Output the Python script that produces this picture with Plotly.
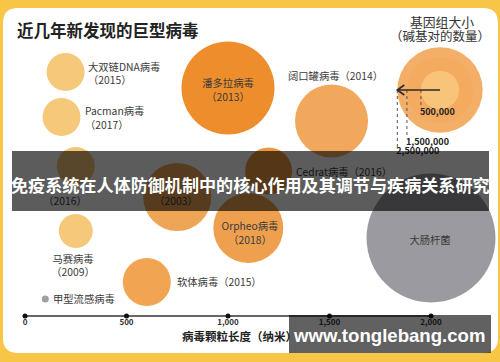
import math
import plotly.graph_objects as go

# ---------------- data ----------------
virus_names = ["大双链DNA病毒", "Pacman病毒", "", "潘多拉病毒", "阔口罐病毒", "Cedrat病毒",
               "", "Orpheo病毒", "马赛病毒", "软体病毒", "甲型流感病毒", "大肠杆菌"]
discovery_years = ["2015", "2017", "2016", "2013", "2014", "2016",
                   "2003", "2018", "2009", "2015", "", ""]
particle_length_nm = [200, 180, 250, 1000, 1510, 1200, 750, 1100, 250, 600, 100, 2000]
genome_bp = [495000, 495000, 495000, 2970000, 1830000, 757000,
             1590000, 1680000, 396000, 790000, 16800, 5700000]
row_position = [72, 117, 166, 88, 121, 171, 197, 228, 231, 282, 299, 238]

legend_genome_bp = [2500000, 1500000, 500000]
legend_text = ["2,500,000", "1,500,000", "500,000"]

tick_vals = [0, 500, 1000, 1500, 2000]
tick_text = ["0", "500", "1,000", "1,500", "2,000"]

# ---------------- styles / layout ----------------
W, H = 500, 362
PX0, PXS = 25.0, 0.203          # pixel of 0 nm, pixels per nm
SIZEREF = 686.0                 # area scaling of bubbles
FONT = "Noto Sans CJK SC, Noto Sans, sans-serif"
TXT = "#3a3a3a"
BG = "#f7c646"

bubble_colors = ["#f6c87a", "#f6c87a", "#f5c677", "#ee8d2c", "#f2a85c", "#eb9841",
                 "#eea556", "#efa04f", "#f6c87a", "#f1a553", "#a0a0a2", "#9b9aa0"]
legend_colors = ["#ee8b27", "#f3a95d", "#f8cf86"]


def nm(px):
    return (px - PX0) / PXS


def radius(g):
    return math.sqrt(g / 2.0 / SIZEREF)


fig = go.Figure()

# bubbles
fig.add_trace(go.Scatter(
    x=particle_length_nm, y=row_position, mode="markers",
    marker=dict(size=genome_bp, sizemode="area", sizeref=SIZEREF,
                color=bubble_colors, line=dict(width=0), opacity=1),
    cliponaxis=False, hoverinfo="skip", showlegend=False))

# genome-size legend circles
LEG_X, LEG_Y = 440, 90
fig.add_trace(go.Scatter(
    x=[nm(LEG_X)] * 3, y=[LEG_Y] * 3, mode="markers",
    marker=dict(size=legend_genome_bp, sizemode="area", sizeref=SIZEREF,
                color=legend_colors, line=dict(width=0)),
    cliponaxis=False, hoverinfo="skip", showlegend=False))

# dotted guide lines + value labels of legend
line_ends = [150, 138, 107]
label_y = [152, 142.5, 113]
for g, yend, ty, t in zip(legend_genome_bp, line_ends, label_y, legend_text):
    xe = LEG_X - radius(g)
    fig.add_trace(go.Scatter(
        x=[nm(xe), nm(xe)], y=[LEG_Y, yend], mode="lines",
        line=dict(color="#555555", width=1, dash="dot"),
        cliponaxis=False, hoverinfo="skip", showlegend=False))
    fig.add_trace(go.Scatter(
        x=[nm(xe - 1)], y=[ty], mode="text", text=["<b>" + t + "</b>"],
        textposition="middle right", textfont=dict(family=FONT, size=9, color="#222222"),
        cliponaxis=False, hoverinfo="skip", showlegend=False))

# arrow in legend
xo = LEG_X - radius(legend_genome_bp[0])
fig.add_trace(go.Scatter(
    x=[nm(LEG_X), nm(xo), None, nm(xo + 7), nm(xo), nm(xo + 7)],
    y=[LEG_Y, LEG_Y, None, LEG_Y - 5, LEG_Y, LEG_Y + 5],
    mode="lines", line=dict(color="#2a2a2a", width=1.6),
    cliponaxis=False, hoverinfo="skip", showlegend=False))

# bubble labels (px position, anchor)
label_layout = [
    (88, 75, "middle right", "br"),
    (85, 119.5, "middle right", "br"),
    (65, 202, "middle center", "year"),
    (228, 91.5, "middle center", "br"),
    (288, 77, "middle right", "inline"),
    (296, 173, "middle right", "inline"),
    (176, 202, "middle center", "year"),
    (250, 234.5, "middle center", "br"),
    (73, 267, "middle center", "br"),
    (177, 283, "middle right", "inline"),
    (53, 300, "middle right", "name"),
    (430, 241, "middle center", "name"),
]
for name, yr, (lx, ly, pos, kind) in zip(virus_names, discovery_years, label_layout):
    if kind == "br":
        t = f"{name}<br>（{yr}）"
    elif kind == "inline":
        t = f"{name}（{yr}）"
    elif kind == "year":
        t = f"（{yr}）"
    else:
        t = name
    fig.add_trace(go.Scatter(
        x=[nm(lx)], y=[ly], mode="text", text=[t], textposition=pos,
        textfont=dict(family=FONT, size=10.3, color=TXT),
        cliponaxis=False, hoverinfo="skip", showlegend=False))

# axis line with tick dots
fig.add_trace(go.Scatter(
    x=[tick_vals[0], tick_vals[-1]], y=[316, 316], mode="lines",
    line=dict(color="#333333", width=1.5),
    cliponaxis=False, hoverinfo="skip", showlegend=False))
fig.add_trace(go.Scatter(
    x=tick_vals, y=[316] * len(tick_vals), mode="markers",
    marker=dict(size=5, color="#111111"),
    cliponaxis=False, hoverinfo="skip", showlegend=False))

# axis title (below the watermark box)
fig.add_trace(go.Scatter(
    x=[nm(182)], y=[338], mode="text", text=["<b>病毒颗粒长度（纳米）</b>"],
    textposition="middle right", textfont=dict(family=FONT, size=11.5, color="#222222"),
    cliponaxis=False, hoverinfo="skip", showlegend=False))


def X(px):
    return px / W


def Y(py):
    return 1 - py / H


r = 15
l, t_, rt, b = 3, 8, 498, 353
panel = (f"M {X(l + r)},{Y(t_)} L {X(rt - r)},{Y(t_)} Q {X(rt)},{Y(t_)} {X(rt)},{Y(t_ + r)} "
         f"L {X(rt)},{Y(b - r)} Q {X(rt)},{Y(b)} {X(rt - r)},{Y(b)} "
         f"L {X(l + r)},{Y(b)} Q {X(l)},{Y(b)} {X(l)},{Y(b - r)} "
         f"L {X(l)},{Y(t_ + r)} Q {X(l)},{Y(t_)} {X(l + r)},{Y(t_)} Z")

shapes = [
    dict(type="path", path=panel, xref="paper", yref="paper",
         fillcolor="#ffffff", line=dict(width=0), layer="below"),
    dict(type="rect", xref="paper", yref="paper", x0=X(12), x1=X(489), y0=Y(211), y1=Y(151),
         fillcolor="rgba(0,0,0,0.64)", line=dict(width=0), layer="above"),
    dict(type="rect", xref="paper", yref="paper", x0=X(289), x1=X(491), y0=Y(353), y1=Y(315),
         fillcolor="rgba(0,0,0,0.62)", line=dict(width=0), layer="above"),
]

annotations = [
    dict(text="<b>近几年新发现的巨型病毒</b>", x=X(15), y=Y(30), xref="paper", yref="paper",
         xanchor="left", yanchor="middle", showarrow=False,
         font=dict(family=FONT, size=16.5, color="#222222")),
    dict(text="基因组大小", x=X(442), y=Y(21), xref="paper", yref="paper",
         xanchor="center", yanchor="middle", showarrow=False,
         font=dict(family=FONT, size=12.8, color="#333333")),
    dict(text="（碱基对的数量）", x=X(440), y=Y(36), xref="paper", yref="paper",
         xanchor="center", yanchor="middle", showarrow=False,
         font=dict(family=FONT, size=12.5, color="#333333")),
    dict(text="<b>免疫系统在人体防御机制中的核心作用及其调节与疾病关系研究</b>",
         x=X(250.5), y=Y(184), xref="paper", yref="paper",
         xanchor="center", yanchor="middle", showarrow=False,
         font=dict(family=FONT, size=17.1, color="#ffffff")),
    dict(text="<b>www.tonglebang.com</b>", x=X(389), y=Y(335), xref="paper", yref="paper",
         xanchor="center", yanchor="middle", showarrow=False,
         font=dict(family="Liberation Sans, Arial, sans-serif", size=18.6, color="#ffffff")),
]

fig.update_layout(
    width=W, height=H, autosize=False,
    margin=dict(l=0, r=0, t=0, b=0, pad=0),
    paper_bgcolor=BG, plot_bgcolor="rgba(0,0,0,0)",
    showlegend=False, shapes=shapes, annotations=annotations,
    xaxis=dict(range=[nm(0), nm(W)], anchor="free", position=46 / H,
               showline=False, showgrid=False, zeroline=False,
               tickmode="array", tickvals=tick_vals,
               ticktext=["<b>" + s + "</b>" for s in tick_text],
               ticks="", tickfont=dict(family=FONT, size=8, color="#333333"),
               fixedrange=True),
    yaxis=dict(range=[H, 0], visible=False, fixedrange=True),
)

fig.write_html(
    "out.html", config={"displayModeBar": False},
    post_script=("document.body.style.margin='0';document.body.style.padding='0';"
                 "document.body.style.overflow='hidden';"
                 f"document.body.style.background='{BG}';"))
